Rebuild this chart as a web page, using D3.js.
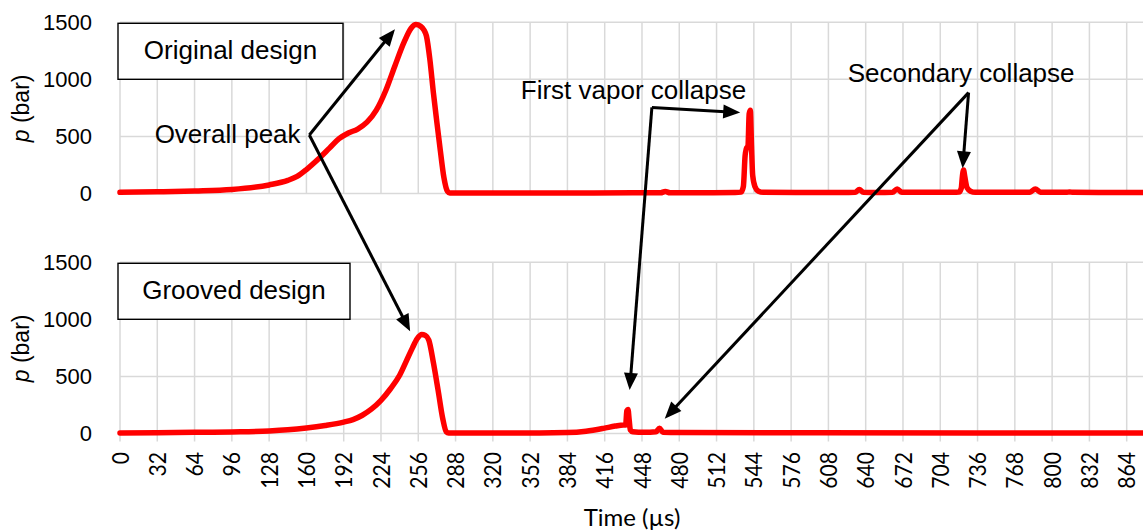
<!DOCTYPE html>
<html>
<head>
<meta charset="utf-8">
<script src="https://cdn.jsdelivr.net/npm/d3@7"></script>
<style>
  body { margin: 0; background: #fff; }
  svg { display: block; }
</style>
</head>
<body>
<svg id="chart" width="1143" height="530"></svg>
<script>
// ---- data ----
const timeTicks = d3.range(0, 865, 32);          // µs
const pressureTicks = [0, 500, 1000, 1500];      // bar

// Original design: pressure history (bar) vs time (µs)
const originalTime = [0, 32, 64, 96, 128, 144, 152, 160, 170, 180, 188, 196, 204, 212, 220, 228, 236, 244, 250, 254, 258, 261, 263, 266, 269, 272, 275, 278, 281, 283,
  320, 380, 440, 464, 468, 472, 500, 528, 533, 535, 536.5, 537.5, 539, 540, 541, 542, 543, 545, 548, 552,
  580, 620, 631, 634.5, 638, 650, 663, 667, 671, 690, 715, 720, 722, 723, 724, 725, 727, 730, 734, 760, 781, 785.6, 790, 805, 812, 815, 818, 840, 878];
const originalP = [10, 15, 22, 35, 75, 115, 150, 210, 300, 400, 480, 530, 565, 625, 730, 900, 1120, 1330, 1450, 1480, 1465, 1430, 1380, 1170, 880, 620, 370, 140, 20, 5,
  5, 5, 6, 6, 18, 6, 6, 8, 12, 60, 330, 390, 420, 700, 730, 420, 160, 60, 20, 10,
  8, 8, 10, 35, 10, 8, 10, 40, 10, 10, 10, 12, 45, 150, 206, 150, 50, 20, 10, 10, 12, 40, 12, 10, 10, 14, 10, 8, 8];

// Grooved design: pressure history (bar) vs time (µs)
const groovedTime = [0, 32, 64, 96, 128, 144, 160, 176, 192, 200, 208, 216, 224, 232, 240, 246, 251, 255, 259, 262, 265, 269, 273, 277, 280, 282,
  320, 360, 384, 400, 415, 425, 432, 434, 435, 436, 437, 438, 440, 450, 460, 463, 466, 480, 600, 878];
const groovedP = [5, 7, 10, 14, 22, 32, 48, 70, 100, 122, 160, 215, 290, 390, 510, 640, 750, 830, 868, 860, 820, 620, 380, 130, 15, 5,
  5, 5, 8, 20, 45, 65, 75, 75, 200, 210, 120, 30, 15, 10, 15, 45, 12, 8, 6, 5];

const panels = [
  { title: "Original design", time: originalTime, p: originalP, top: 22.3, bottom: 193.5, boxW: 225, showTicks: false },
  { title: "Grooved design",  time: groovedTime,  p: groovedP,  top: 262.3, bottom: 433.5, boxW: 232, showTicks: true }
];

// ---- layout ----
const svg = d3.select("#chart");
const left = 120, right = 1143;
const x = d3.scaleLinear().domain([0, 878]).range([left, right]);
const armFont = "'Liberation Sans', Arial, sans-serif";
const caliFont = "Lato, 'Open Sans', sans-serif";

panels.forEach(pn => {
  pn.y = d3.scaleLinear().domain([0, 1500]).range([pn.bottom, pn.top]);
  const g = svg.append("g");

  // grid
  g.selectAll("line.v").data(timeTicks).join("line")
    .attr("x1", d => x(d)).attr("x2", d => x(d))
    .attr("y1", pn.top).attr("y2", pn.bottom + (pn.showTicks ? 8 : 0))
    .attr("stroke", "#d9d9d9").attr("stroke-width", 1.5);
  g.selectAll("line.h").data(pressureTicks).join("line")
    .attr("x1", left).attr("x2", right)
    .attr("y1", d => pn.y(d)).attr("y2", d => pn.y(d))
    .attr("stroke", "#d9d9d9").attr("stroke-width", 1.5);

  // y tick labels
  g.selectAll("text.yt").data(pressureTicks).join("text")
    .attr("x", 92).attr("y", d => pn.y(d)).attr("dy", "0.36em")
    .attr("text-anchor", "end")
    .attr("font-family", armFont).attr("font-size", 22).attr("fill", "#000")
    .text(d => d);

  // y title
  const yt = g.append("text")
    .attr("transform", `translate(29,${(pn.top + pn.bottom) / 2 + 0.5}) rotate(-90)`)
    .attr("text-anchor", "middle")
    .attr("font-family", armFont).attr("font-size", 23).attr("fill", "#000");
  yt.append("tspan").attr("font-style", "italic").text("p");
  yt.append("tspan").text(" (bar)");

  // series
  const line = d3.line()
    .x((d, i) => x(pn.time[i]))
    .y(d => pn.y(d))
    .curve(d3.curveMonotoneX);
  g.append("path")
    .attr("d", line(pn.p))
    .attr("fill", "none")
    .attr("stroke", "#ff0000")
    .attr("stroke-width", 5.5)
    .attr("stroke-linejoin", "round")
    .attr("stroke-linecap", "round");

  // design label box
  g.append("rect")
    .attr("x", 118).attr("y", pn.top + 1).attr("width", pn.boxW).attr("height", 56)
    .attr("fill", "#fff").attr("stroke", "#000").attr("stroke-width", 1.4);
  g.append("text")
    .attr("x", 118 + pn.boxW / 2).attr("y", pn.top + 37)
    .attr("text-anchor", "middle")
    .attr("font-family", armFont).attr("font-size", 26).attr("fill", "#000")
    .text(pn.title);

  // x tick labels
  if (pn.showTicks) {
    g.selectAll("text.xt").data(timeTicks).join("text")
      .attr("transform", d => `translate(${x(d)},452) rotate(-90) scale(0.88,1)`)
      .attr("text-anchor", "end").attr("dy", "0.36em")
      .attr("font-family", caliFont).attr("font-size", 24).attr("fill", "#000")
      .text(d => d);
  }
});

// x title
svg.append("text")
  .attr("x", 632).attr("y", 526)
  .attr("text-anchor", "middle")
  .attr("font-family", caliFont).attr("font-size", 24).attr("fill", "#000")
  .text("Time (µs)");

// ---- annotations ----
const [topP, botP] = panels;
const pt = (pn, t, p) => [x(t), pn.y(p)];

function arrow(from, to) {
  const dx = to[0] - from[0], dy = to[1] - from[1];
  const len = Math.hypot(dx, dy), ux = dx / len, uy = dy / len;
  const headL = 17, headW = 7;
  const base = [to[0] - ux * headL, to[1] - uy * headL];
  svg.append("line")
    .attr("x1", from[0]).attr("y1", from[1])
    .attr("x2", base[0] + ux * 2).attr("y2", base[1] + uy * 2)
    .attr("stroke", "#000").attr("stroke-width", 3);
  svg.append("path")
    .attr("d", `M${to[0]},${to[1]}L${base[0] - uy * headW},${base[1] + ux * headW}L${base[0] + uy * headW},${base[1] - ux * headW}Z`)
    .attr("fill", "#000");
}

const notes = [
  { text: "Overall peak", anchor: "end", at: pt(topP, 155, 442),
    from: pt(topP, 162.5, 513), to: [pt(topP, 236, 1440), pt(botP, 249, 895)] },
  { text: "First vapor collapse", anchor: "start", at: pt(topP, 344, 826),
    from: pt(topP, 456.5, 754), to: [pt(topP, 532.3, 709), pt(botP, 437.4, 382)] },
  { text: "Secondary collapse", anchor: "start", at: pt(topP, 624.5, 981),
    from: pt(topP, 728.3, 884), to: [pt(topP, 723.2, 221), pt(botP, 467.5, 129)] }
];

notes.forEach(n => {
  svg.append("text")
    .attr("x", n.at[0]).attr("y", n.at[1])
    .attr("text-anchor", n.anchor)
    .attr("font-family", armFont).attr("font-size", 26).attr("fill", "#000")
    .text(n.text);
  n.to.forEach(t => arrow(n.from, t));
});
</script>
</body>
</html>
